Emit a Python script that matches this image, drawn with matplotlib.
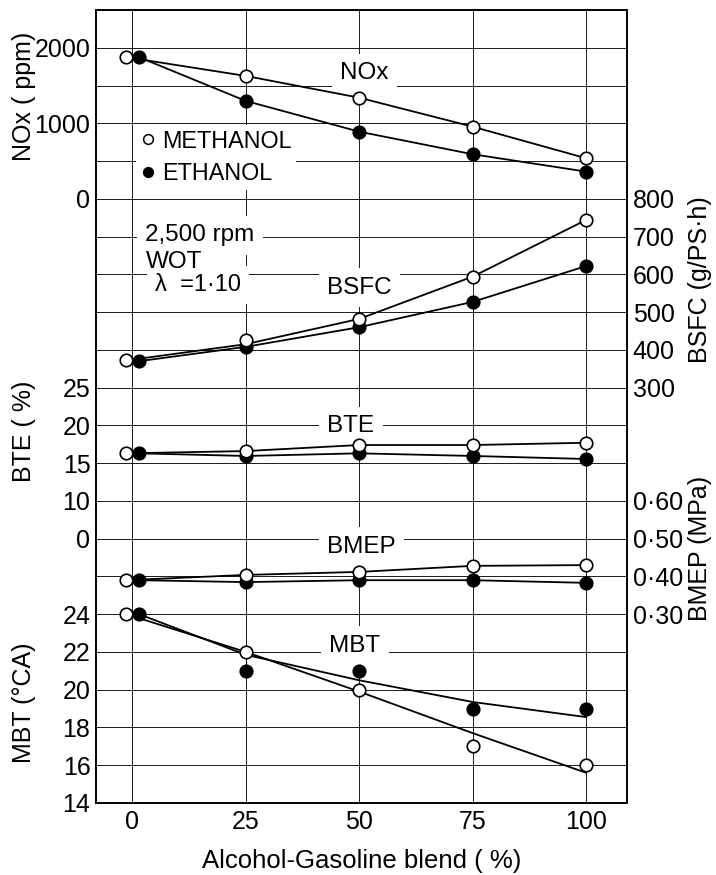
import matplotlib
matplotlib.use("Agg")
import matplotlib.pyplot as plt
from matplotlib.lines import Line2D

plt.rcParams['font.family'] = ['Liberation Sans', 'DejaVu Sans']

# blend ratio (%); at 0 % the two symbols sit slightly apart in the original
blend = [0, 25, 50, 75, 100]
x_meth = [-1.3, 25, 50, 75, 100]
x_eth = [1.5, 25, 50, 75, 100]

nox_meth = [1875, 1627, 1339, 955, 537]
nox_eth = [1875, 1296, 889, 590, 360]

bsfc_meth = [373, 426, 482, 594, 744]
bsfc_eth = [370, 408, 460, 527, 622]
bsfc_meth_fit = [372, 415, 482, 594, 744]

bte_meth = [16.3, 16.6, 17.4, 17.4, 17.7]
bte_eth = [16.3, 15.95, 16.3, 15.95, 15.55]

bmep_meth = [0.390, 0.404, 0.412, 0.428, 0.430]
bmep_eth = [0.390, 0.385, 0.390, 0.390, 0.383]

mbt_meth = [24, 22, 20, 17, 16]
mbt_eth = [24, 21, 21, 19, 19]
mbt_meth_fit = [24, 22, 19.9, 17.7, 15.6]
mbt_eth_fit = [24, 21.85, 20.5, 19.35, 18.55]

# scale of every quantity on the common 21-division grid
nox_lim = (-8000, 2500)
nox_ticks = [0, 1000, 2000]
bsfc_lim = (-800, 1300)
bsfc_ticks = [300, 400, 500, 600, 700, 800]
bte_lim = (-30, 75)
bte_ticks = [5, 10, 15, 20, 25]
bte_labels = ['0', '10', '15', '20', '25']
bmep_lim = (-0.2, 1.9)
bmep_ticks = [0.3, 0.4, 0.5, 0.6]
bmep_labels = ['0·30', '0·40', '0·50', '0·60']
mbt_lim = (14, 56)
mbt_ticks = [14, 16, 18, 20, 22, 24]

FS = 18

fig = plt.figure(figsize=(7.16, 8.75), dpi=100)
ax = fig.add_axes([96 / 716, 72 / 875, 531 / 716, 793 / 875])
ax.set_xlim(-8, 109)
ax.set_ylim(0, 21)
ax.set_yticks(range(22))
ax.set_yticklabels([])
ax.set_xticks(blend)
ax.set_xticklabels([str(b) for b in blend], fontsize=FS)
ax.tick_params(axis='both', length=0)
ax.tick_params(axis='x', pad=5)
ax.grid(True, color='0.1', lw=0.7)
for s in ax.spines.values():
    s.set_linewidth(1.4)
ax.set_xlabel('Alcohol-Gasoline blend ( %)', fontsize=18.5)
ax.xaxis.set_label_coords(0.5, -0.058)


def make_axis(lim, ticks, labels, side):
    tw = ax.twinx()
    tw.set_ylim(*lim)
    tw.set_yticks(ticks)
    tw.set_yticklabels(labels, fontsize=FS)
    if side == 'left':
        tw.yaxis.tick_left()
    else:
        tw.yaxis.tick_right()
    tw.tick_params(axis='y', length=0, pad=4)
    for s in tw.spines.values():
        s.set_visible(False)
    return tw


def draw(tw, ym, ye, ym_line=None, ye_line=None):
    ym_line = ym if ym_line is None else ym_line
    ye_line = ye if ye_line is None else ye_line
    tw.plot(x_meth, ym_line, color='black', lw=1.3, zorder=2)
    tw.plot(x_eth, ye_line, color='black', lw=1.3, zorder=2)
    tw.plot(x_eth, ye, 'o', ms=9, mfc='black', mec='black', mew=1.2, zorder=3)
    tw.plot(x_meth, ym, 'o', ms=9, mfc='white', mec='black', mew=1.2, zorder=4)


ax_nox = make_axis(nox_lim, nox_ticks, [str(t) for t in nox_ticks], 'left')
draw(ax_nox, nox_meth, nox_eth)

ax_bsfc = make_axis(bsfc_lim, bsfc_ticks, [str(t) for t in bsfc_ticks], 'right')
draw(ax_bsfc, bsfc_meth, bsfc_eth, ym_line=bsfc_meth_fit)

ax_bte = make_axis(bte_lim, bte_ticks, bte_labels, 'left')
draw(ax_bte, bte_meth, bte_eth)

ax_bmep = make_axis(bmep_lim, bmep_ticks, bmep_labels, 'right')
draw(ax_bmep, bmep_meth, bmep_eth)

ax_mbt = make_axis(mbt_lim, mbt_ticks, [str(t) for t in mbt_ticks], 'left')
draw(ax_mbt, mbt_meth, mbt_eth, ym_line=mbt_meth_fit, ye_line=mbt_eth_fit)

# curve names on the grid
box = dict(boxstyle='square,pad=0.35', fc='white', ec='none')
for name, gx, gy in [('NOx', 45.8, 19.33), ('BSFC', 42.9, 13.64),
                     ('BTE', 42.9, 9.98), ('BMEP', 42.9, 6.78),
                     ('MBT', 43.4, 4.16)]:
    ax.text(gx, gy, name, fontsize=17.5, ha='left', va='center', bbox=box, zorder=3)

ax.text(2.9, 15.04, '2,500 rpm', fontsize=17.5, ha='left', va='center', bbox=box, zorder=3)
ax.text(5.0, 13.72, 'λ  =1·10', fontsize=17, ha='left', va='center', bbox=box, zorder=3)
ax.text(2.9, 14.33, 'WOT', fontsize=17.5, ha='left', va='center', zorder=4)

# axis titles
lab = dict(fontsize=FS, rotation=90, ha='center', va='center', transform=ax.transAxes)
ax.text(-0.1356, 0.8916, 'NOx ( ppm)', **lab)
ax.text(-0.1356, 0.469, 'BTE ( %)', **lab)
ax.text(-0.1356, 0.126, 'MBT (°CA)', **lab)
ax.text(1.138, 0.6595, 'BSFC (g/PS·h)', **lab)
ax.text(1.138, 0.3216, 'BMEP (MPa)', **lab)

handles = [Line2D([], [], ls='none', marker='o', ms=7, mfc='white', mec='black', mew=1.1),
           Line2D([], [], ls='none', marker='o', ms=7, mfc='black', mec='black', mew=1.1)]
leg = ax.legend(handles, ['METHANOL', 'ETHANOL'], loc='upper left',
                bbox_to_anchor=(0.076, 0.855), fontsize=16.8, frameon=True,
                fancybox=False, edgecolor='none', facecolor='white', framealpha=1,
                borderpad=0.2, borderaxespad=0, handlelength=0.6,
                handletextpad=0.3, labelspacing=0.4)

fig.savefig('out.png', dpi=100)
